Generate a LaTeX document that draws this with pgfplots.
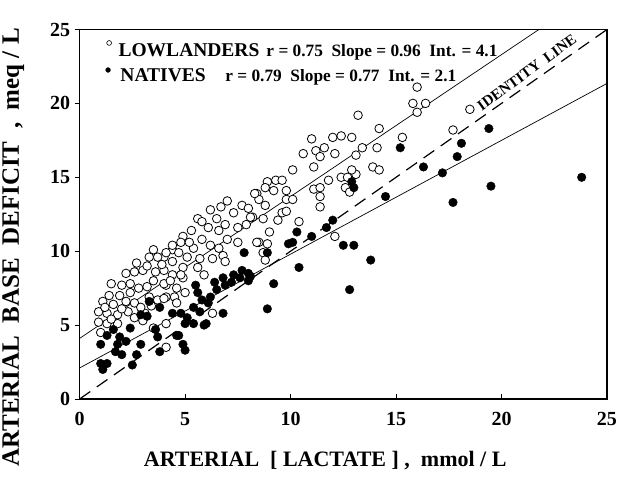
\documentclass[border=0pt]{standalone}
\usepackage{pgfplots}
\pgfplotsset{compat=1.18}
\usepackage{pgfplotstable}
\usepackage{fontspec}
\setmainfont{Liberation Serif}

% lowlanders (open circles)
\pgfplotstableread{
x y
16.0 21.1
15.8 20.0
16.4 20.0
16.0 19.4
18.5 19.6
17.7 18.2
13.2 19.2
14.2 18.3
15.3 17.7
13.4 17.0
14.1 17.0
13.1 16.5
12.9 17.7
13.9 15.7
14.2 15.5
13.1 15.2
12.9 15.5
11.0 17.6
12.0 17.7
12.4 17.8
10.6 16.6
11.2 16.8
11.6 17.0
11.4 16.4
12.1 16.6
10.1 15.5
11.1 15.7
11.8 14.8
12.4 15.0
12.7 15.0
11.1 14.2
11.4 14.3
12.6 14.3
12.8 14.0
11.4 13.7
11.4 13.0
8.4 13.9
8.9 14.7
9.3 14.8
9.6 14.8
8.8 14.3
9.2 14.1
9.8 14.1
8.5 13.5
9.8 13.5
10.1 13.5
8.8 13.1
8.2 12.3
9.6 12.6
9.8 12.7
9.4 12.1
8.7 12.2
10.4 12.0
9.0 11.3
8.5 10.6
8.9 10.5
8.7 9.9
8.8 9.4
12.1 11.0
6.7 13.0
7.7 13.1
8.0 12.9
8.3 13.9
5.6 12.2
5.8 12.0
6.5 12.2
6.1 11.6
6.9 11.8
6.6 11.4
7.5 11.6
7.9 11.8
8.1 12.3
4.9 11.0
4.8 10.6
5.8 10.8
5.4 10.2
6.2 10.4
6.6 10.2
7.0 10.8
7.5 10.6
4.4 10.1
4.0 9.6
5.1 9.6
5.7 9.5
6.3 9.5
6.8 9.7
6.9 9.3
8.4 10.6
4.4 9.3
4.9 8.9
5.6 8.9
5.9 8.4
4.0 8.7
4.4 8.4
4.9 8.2
4.1 7.7
4.6 7.5
4.1 6.9
4.5 6.9
5.0 7.2
4.6 6.5
6.3 5.8
4.4 10.4
4.1 9.9
3.7 9.6
2.2 8.5
2.6 8.6
3.0 8.7
3.6 8.6
1.5 7.8
2.0 7.7
2.4 7.8
3.5 8.0
4.0 7.8
4.3 8.0
1.4 7.0
1.9 7.0
2.4 7.2
1.1 6.6
1.6 6.4
2.2 6.6
2.6 6.5
3.3 6.9
3.7 6.7
4.0 6.8
0.9 5.9
1.3 5.8
1.8 5.7
2.3 5.9
3.1 5.8
0.9 5.2
1.3 5.1
1.8 5.1
4.1 5.1
1.0 4.5
3.5 4.8
4.1 3.5
2.8 7.5
3.2 7.6
2.9 6.2
3.4 6.3
2.0 6.1
1.2 6.2
2.7 9.2
3.2 9.0
3.9 9.1
3.3 9.6
3.5 10.1
4.7 9.9
5.2 10.6
5.3 11.4
6.2 12.8
7.3 12.6
7.0 13.4
3.0 5.3
2.6 5.5
1.5 5.4
4.8 8.4
}\lowlanders

% natives (filled circles)
\pgfplotstableread{
x y
15.2 17.0
18.1 17.3
17.9 16.4
16.3 15.7
17.2 15.3
14.5 13.7
17.7 13.3
13.0 14.3
12.9 14.7
13.0 10.4
12.5 10.4
13.8 9.4
12.8 7.4
19.4 18.3
19.5 14.4
23.8 15.0
12.0 12.1
11.7 11.6
11.0 11.0
10.3 11.3
10.1 10.6
9.9 10.5
8.9 9.9
10.4 8.9
9.2 7.8
8.9 6.1
8.1 8.3
7.8 9.9
7.7 8.7
8.0 8.5
8.0 8.0
7.6 8.2
6.8 8.2
6.9 7.7
6.5 7.4
6.2 6.9
5.5 7.7
5.6 7.2
5.8 6.7
5.4 6.2
5.7 5.9
4.8 5.8
4.4 5.8
5.1 5.5
5.4 5.1
5.0 5.1
5.9 5.0
6.8 5.8
4.7 4.3
4.9 3.7
5.0 3.3
6.1 6.5
7.2 7.9
7.3 8.4
6.4 7.9
6.0 5.1
3.3 6.6
3.8 6.2
2.9 5.7
3.2 5.6
2.4 4.8
1.6 4.7
1.3 4.3
1.9 4.2
3.6 4.7
3.7 4.2
1.0 3.7
1.8 3.7
2.2 3.9
2.9 3.7
1.7 3.2
2.0 3.0
2.7 3.0
3.8 3.2
2.5 2.3
1.0 2.4
1.1 2.0
1.3 2.4
4.6 4.3
}\natives

\begin{document}
\begin{tikzpicture}
\begin{axis}[
  at={(0,0)}, anchor=south west,
  scale only axis, width=527.4pt, height=369.5pt,
  xmin=0, xmax=25, ymin=0, ymax=25,
  xtick={0,5,...,25}, ytick={0,5,...,25},
  tick pos=left, tick align=inside, major tick length=5pt,
  y tick style={xshift=-5pt},
  tick style={black, line width=1pt},
  axis line style={line width=1.3pt},
  /pgf/number format/assume math mode=true,
  ticklabel style={font=\fontsize{20}{20}\selectfont\bfseries},
  xticklabel style={yshift=-10pt},
  yticklabel style={xshift=-6pt},
  xlabel={ARTERIAL~~[~LACTATE~]~,~~mmol~/~L},
  ylabel={ARTERIAL~~BASE~~DEFICIT~~,~~meq~/~L},
  xlabel style={font=\fontsize{22}{22}\selectfont\bfseries,
    at={(axis description cs:0.4657,-0.184)}, anchor=base},
  ylabel style={font=\fontsize{25}{25}\selectfont\bfseries,
    at={(axis description cs:-0.126,0.41)}, anchor=center},
]
% regression lines and identity line
\addplot[black, line width=0.7pt] coordinates {(0,4.1) (25,28.1)};
\addplot[black, line width=0.7pt] coordinates {(0,2.1) (25,21.35)};
\addplot[black, line width=1.2pt, dash pattern=on 13pt off 8pt] coordinates {(0,0) (25,25)};

\addplot[only marks, mark=*, mark size=4.3pt,
  mark options={fill=white, draw=black, line width=0.8pt}] table[x=x, y=y] {\lowlanders};
\addplot[only marks, mark=*, mark size=4.3pt,
  mark options={fill=black, draw=black}] table[x=x, y=y] {\natives};

% legend markers
\addplot[only marks, mark=*, mark size=2.4pt,
  mark options={fill=white, draw=black, line width=0.6pt}] coordinates {(1.40,24.09)};
\addplot[only marks, mark=*, mark size=2.4pt,
  mark options={fill=black, draw=black}] coordinates {(1.35,22.26)};

\node[anchor=base west, font=\fontsize{19.5}{19.5}\selectfont\bfseries] at (axis cs:1.68,23.2) {LOWLANDERS};
\node[anchor=base west, inner xsep=0pt, font=\fontsize{17.3}{17.3}\selectfont\bfseries] at (axis cs:8.85,23.2) {r = 0.75~~Slope = 0.96~~Int. = 4.1};
\node[anchor=base west, font=\fontsize{19.5}{19.5}\selectfont\bfseries] at (axis cs:1.77,21.47) {NATIVES};
\node[anchor=base west, inner xsep=0pt, font=\fontsize{17.3}{17.3}\selectfont\bfseries] at (axis cs:6.9,21.47) {r = 0.79~~Slope = 0.77~~Int. = 2.1};

\node[rotate=36, font=\fontsize{15}{15}\selectfont\bfseries] at (axis cs:21.2,22.1) {IDENTITY~~LINE};
\end{axis}
\pgfresetboundingbox
\path[use as bounding box] (-79.6pt,-78pt) rectangle (539.4pt,399pt);
\end{tikzpicture}
\end{document}
